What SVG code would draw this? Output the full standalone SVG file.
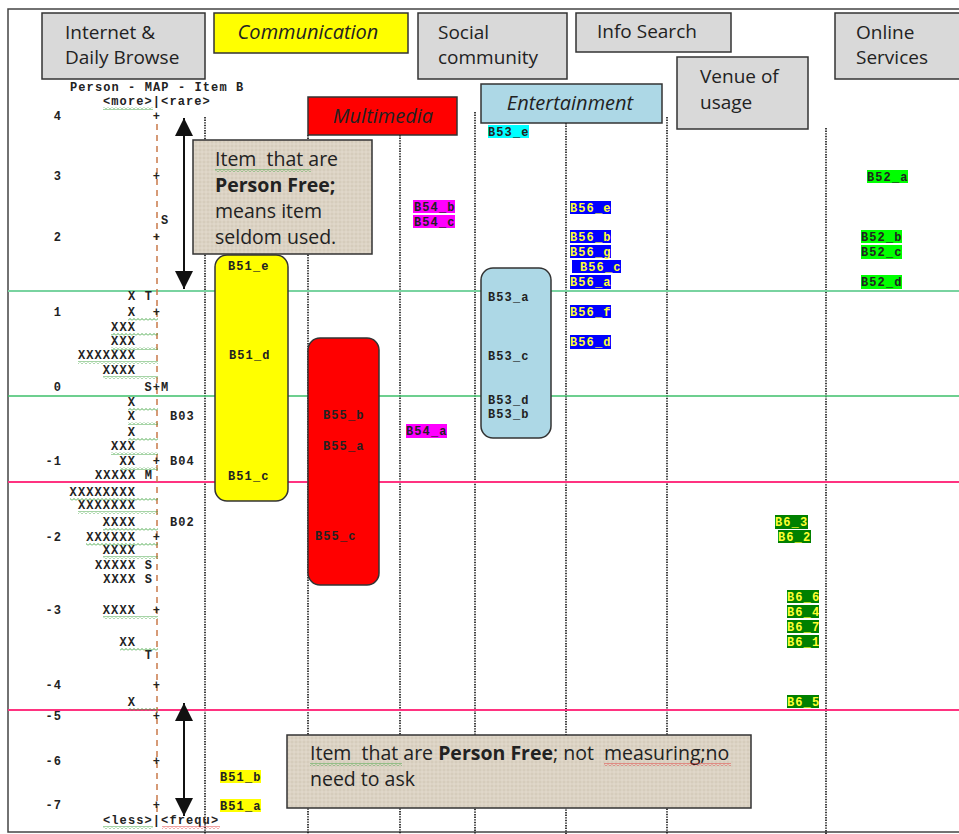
<svg xmlns="http://www.w3.org/2000/svg" width="959" height="834" viewBox="0 0 959 834">
<defs>
<style>
.hdr{fill:#d9d9d9;stroke:#333;stroke-width:1.5}
.ht{font-family:"Open Sans","Liberation Sans",sans-serif;font-size:19px;fill:#222}
.hi{font-style:italic;font-size:20px}
.mono{font-family:"Liberation Mono","Courier New",monospace;font-size:12px;letter-spacing:1.1px;font-weight:bold;fill:#222}
.lbl{font-family:"Liberation Mono","Courier New",monospace;font-size:12px;letter-spacing:1.1px;font-weight:bold;fill:#222}
.ylw{fill:#ffff33}
.dot{stroke:#111;stroke-width:1.6;stroke-dasharray:1.4 1.2;fill:none}
.note{font-family:"Open Sans","Liberation Sans",sans-serif;font-size:19.5px;fill:#222;white-space:pre}
</style>
<pattern id="wg" width="4" height="3" patternUnits="userSpaceOnUse"><path d="M0,2.5 L2,0.5 L4,2.5" fill="none" stroke="#3aa03a" stroke-width="0.9"/></pattern>
<pattern id="wr" width="4" height="3" patternUnits="userSpaceOnUse"><path d="M0,2.5 L2,0.5 L4,2.5" fill="none" stroke="#e03030" stroke-width="0.9"/></pattern>
<pattern id="tex" width="8" height="8" patternUnits="userSpaceOnUse">
<rect width="8" height="8" fill="#dcd3c4"/>
<path d="M0,2 H8 M0,6 H8" stroke="#cbc1b0" stroke-width="0.8"/>
<path d="M2,0 V8 M6,0 V8" stroke="#e6dfd2" stroke-width="0.7"/>
</pattern>
<marker id="ah" viewBox="0 0 10 10" refX="10" refY="5" markerWidth="20" markerHeight="18" markerUnits="userSpaceOnUse" orient="auto-start-reverse"><path d="M0,0 L10,5 L0,10 z" fill="#111"/></marker>
</defs>
<rect width="959" height="834" fill="#fff"/>
<rect x="8" y="9" width="960" height="823" fill="none" stroke="#444" stroke-width="1.5"/>

<!-- column dotted separators -->
<g id="columns">
<line class="dot" x1="205" y1="117" x2="205" y2="834"/>
<line class="dot" x1="308" y1="135" x2="308" y2="834"/>
<line class="dot" x1="400" y1="135" x2="400" y2="834"/>
<line class="dot" x1="475" y1="112" x2="475" y2="834"/>
<line class="dot" x1="566" y1="123" x2="566" y2="834"/>
<line class="dot" x1="667" y1="117" x2="667" y2="834"/>
<line class="dot" x1="826" y1="128" x2="826" y2="834"/>
</g>

<!-- header boxes -->
<g id="h-internet"><rect class="hdr" x="42" y="13" width="163" height="66"/><text class="ht" x="65" y="39">Internet &amp;</text><text class="ht" x="65" y="64">Daily Browse</text></g>
<g id="h-communication"><rect x="214" y="13" width="194" height="40" fill="#ffff00" stroke="#333" stroke-width="1.5"/><text class="ht hi" x="308" y="39" text-anchor="middle">Communication</text></g>
<g id="h-social"><rect class="hdr" x="418" y="13" width="149" height="66"/><text class="ht" x="438" y="39">Social</text><text class="ht" x="438" y="64">community</text></g>
<g id="h-info"><rect class="hdr" x="576" y="13" width="155" height="39"/><text class="ht" x="597" y="38">Info Search</text></g>
<g id="h-online"><rect class="hdr" x="835" y="13" width="130" height="66"/><text class="ht" x="856" y="39">Online</text><text class="ht" x="856" y="64">Services</text></g>
<g id="h-venue"><rect class="hdr" x="677" y="57" width="131" height="72"/><text class="ht" x="700" y="83">Venue of</text><text class="ht" x="700" y="109">usage</text></g>
<g id="h-entertainment"><rect x="481" y="84" width="181" height="39" fill="#add8e6" stroke="#333" stroke-width="1.5"/><text class="ht hi" x="570" y="110" text-anchor="middle">Entertainment</text></g>
<g id="h-multimedia"><rect x="308" y="97" width="149" height="38" fill="#ff0000" stroke="#333" stroke-width="1.5"/><text class="ht hi" x="383" y="123" text-anchor="middle">Multimedia</text></g>

<!-- horizontal reference lines -->
<g id="hlines">
<line x1="8" y1="291" x2="959" y2="291" stroke="#79d3a0" stroke-width="2"/>
<line x1="8" y1="396" x2="959" y2="396" stroke="#3cbf6a" stroke-width="1.3"/>
<line x1="8" y1="482" x2="959" y2="482" stroke="#ff3380" stroke-width="2.2"/>
<line x1="8" y1="710" x2="959" y2="710" stroke="#ff3380" stroke-width="2.2"/>
</g>

<!-- axis -->
<g id="axis">
<text class="mono" x="70" y="91">Person - MAP - Item B</text>
<text class="mono" x="103" y="105">&lt;more&gt;|&lt;rare&gt;</text>
<rect x="103" y="107" width="50" height="3" fill="url(#wg)"/>
<line x1="157" y1="124" x2="157" y2="812" stroke="#c97a4a" stroke-width="1.5" stroke-dasharray="6 5"/>
<g class="mono" text-anchor="end">
<text x="62" y="120">4</text><text x="62" y="180">3</text><text x="62" y="241">2</text><text x="62" y="316">1</text><text x="62" y="391">0</text><text x="62" y="465">-1</text><text x="62" y="541">-2</text><text x="62" y="614">-3</text><text x="62" y="689">-4</text><text x="62" y="720">-5</text><text x="62" y="765">-6</text><text x="62" y="809">-7</text>
</g>
<g class="mono" text-anchor="middle">
<text x="157" y="120">+</text><text x="157" y="180">+</text><text x="157" y="241">+</text><text x="157" y="316">+</text><text x="157" y="465">+</text><text x="157" y="541">+</text><text x="157" y="614">+</text><text x="157" y="689">+</text><text x="157" y="720">+</text><text x="157" y="765">+</text><text x="157" y="809">+</text>
</g>
<text class="mono" x="161" y="224">S</text>
<text class="mono" x="144.5" y="391">S+M</text>
<g class="mono" text-anchor="end">
<text x="153" y="300">X T</text>
<text x="136" y="316">X</text>
<text x="136" y="331">XXX</text>
<text x="136" y="345">XXX</text>
<text x="136" y="359">XXXXXXX</text>
<text x="136" y="374">XXXX</text>
<text x="136" y="406">X</text>
<text x="136" y="420">X</text>
<text x="136" y="436">X</text>
<text x="136" y="450">XXX</text>
<text x="136" y="465">XX</text>
<text x="153" y="479">XXXXX M</text>
<text x="136" y="496">XXXXXXXX</text>
<text x="136" y="509">XXXXXXX</text>
<text x="136" y="526">XXXX</text>
<text x="136" y="541">XXXXXX</text>
<text x="136" y="554">XXXX</text>
<text x="153" y="569">XXXXX S</text>
<text x="153" y="583">XXXX S</text>
<text x="136" y="614">XXXX</text>
<text x="136" y="646">XX</text>
<text x="153" y="659">T</text>
<text x="136" y="706">X</text>
</g>
<g fill="url(#wg)">
<rect x="128" y="318" width="30" height="3"/>
<rect x="111" y="333" width="47" height="3"/>
<rect x="111" y="347" width="47" height="3"/>
<rect x="78" y="361" width="80" height="3"/>
<rect x="103" y="376" width="55" height="3"/>
<rect x="128" y="408" width="30" height="3"/>
<rect x="128" y="422" width="30" height="3"/>
<rect x="128" y="438" width="30" height="3"/>
<rect x="111" y="452" width="47" height="3"/>
<rect x="120" y="467" width="38" height="3"/>
<rect x="70" y="498" width="88" height="3"/>
<rect x="78" y="511" width="80" height="3"/>
<rect x="103" y="528" width="55" height="3"/>
<rect x="86" y="543" width="72" height="3"/>
<rect x="103" y="556" width="55" height="3"/>
<rect x="103" y="616" width="55" height="3"/>
<rect x="120" y="648" width="38" height="3"/>
<rect x="128" y="708" width="30" height="3"/>
</g>
<text class="mono" x="170" y="420">B03</text>
<text class="mono" x="170" y="465">B04</text>
<text class="mono" x="170" y="526">B02</text>
<text class="mono" x="103" y="824">&lt;less&gt;|&lt;frequ&gt;</text>
<rect x="103" y="826" width="50" height="3" fill="url(#wg)"/>
<rect x="162" y="826" width="58" height="3" fill="url(#wr)"/>
</g>

<!-- arrows -->
<g id="connectors">
<line x1="184" y1="118" x2="184" y2="289" stroke="#111" stroke-width="2" marker-start="url(#ah)" marker-end="url(#ah)"/>
<line x1="184" y1="703" x2="184" y2="816" stroke="#111" stroke-width="2" marker-start="url(#ah)" marker-end="url(#ah)"/>
</g>

<!-- note boxes -->
<g id="note-top">
<rect x="193" y="140" width="179" height="114" fill="url(#tex)" stroke="#333" stroke-width="1.5"/>
<text class="note" x="215" y="166" xml:space="preserve">Item  that are</text>
<rect x="215" y="169" width="96" height="3" fill="url(#wg)"/>
<text class="note" x="215" y="192" font-weight="bold">Person Free;</text>
<text class="note" x="215" y="218">means item</text>
<text class="note" x="215" y="244">seldom used.</text>
</g>
<g id="note-bottom">
<rect x="287" y="735" width="464" height="73" fill="url(#tex)" stroke="#333" stroke-width="1.5"/>
<text class="note" x="310" y="760" xml:space="preserve">Item  that are <tspan font-weight="bold">Person Free</tspan>; not  measuring;no</text>
<rect x="310" y="763" width="92" height="3" fill="url(#wg)"/>
<rect x="604" y="763" width="127" height="3" fill="url(#wr)"/>
<text class="note" x="310" y="786">need to ask</text>
</g>

<!-- group pills -->
<g id="pill-B51">
<rect x="215" y="255" width="73" height="246" rx="12" fill="#ffff00" stroke="#333" stroke-width="1.5"/>
<text class="lbl" x="228" y="270">B51_e</text>
<text class="lbl" x="229" y="359">B51_d</text>
<text class="lbl" x="228" y="480">B51_c</text>
</g>
<g id="pill-B55">
<rect x="308" y="338" width="71" height="247" rx="12" fill="#ff0000" stroke="#333" stroke-width="1.5"/>
<text class="lbl" x="323" y="419">B55_b</text>
<text class="lbl" x="323" y="450">B55_a</text>
<text class="lbl" x="315" y="540">B55_c</text>
</g>
<g id="pill-B53">
<rect x="481" y="268" width="70" height="170" rx="12" fill="#add8e6" stroke="#333" stroke-width="1.5"/>
<text class="lbl" x="488" y="301">B53_a</text>
<text class="lbl" x="488" y="360">B53_c</text>
<text class="lbl" x="488" y="404">B53_d</text>
<text class="lbl" x="488" y="418">B53_b</text>
</g>

<!-- highlighted item labels -->
<g id="B53_e"><rect x="488" y="125" width="41" height="13" fill="#00ffff"/><text class="lbl" x="488" y="136">B53_e</text></g>
<g id="B54_b"><rect x="413" y="200" width="42" height="13" fill="#ff00ff"/><text class="lbl" x="414" y="211">B54_b</text></g>
<g id="B54_c"><rect x="413" y="215" width="42" height="13" fill="#ff00ff"/><text class="lbl" x="414" y="226">B54_c</text></g>
<g id="B54_a"><rect x="406" y="424" width="41" height="14" fill="#ff00ff"/><text class="lbl" x="406" y="435">B54_a</text></g>

<g id="B56_e"><rect x="570" y="201" width="41" height="13" fill="#0000ff"/><text class="lbl ylw" x="570" y="212">B56_e</text></g>
<g id="B56_b"><rect x="570" y="230" width="41" height="13" fill="#0000ff"/><text class="lbl ylw" x="570" y="241">B56_b</text></g>
<g id="B56_g"><rect x="570" y="245" width="41" height="13" fill="#0000ff"/><text class="lbl ylw" x="570" y="256">B56_g</text></g>
<g id="B56_c"><rect x="572" y="260" width="49" height="13" fill="#0000ff"/><text class="lbl ylw" x="580" y="271">B56_c</text></g>
<g id="B56_a"><rect x="570" y="275" width="41" height="14" fill="#0000ff"/><text class="lbl ylw" x="570" y="286">B56_a</text></g>
<g id="B56_f"><rect x="570" y="305" width="41" height="13" fill="#0000ff"/><text class="lbl ylw" x="570" y="316">B56_f</text></g>
<g id="B56_d"><rect x="570" y="335" width="41" height="14" fill="#0000ff"/><text class="lbl ylw" x="570" y="346">B56_d</text></g>

<g id="B52_a"><rect x="867" y="170" width="41" height="13" fill="#00ff00"/><text class="lbl" x="867" y="181">B52_a</text></g>
<g id="B52_b"><rect x="861" y="230" width="41" height="13" fill="#00ff00"/><text class="lbl" x="861" y="241">B52_b</text></g>
<g id="B52_c"><rect x="861" y="245" width="41" height="14" fill="#00ff00"/><text class="lbl" x="861" y="256">B52_c</text></g>
<g id="B52_d"><rect x="861" y="275" width="41" height="14" fill="#00ff00"/><text class="lbl" x="861" y="286">B52_d</text></g>

<g id="B6_3"><rect x="775" y="515" width="33" height="14" fill="#008000"/><text class="lbl ylw" x="775" y="526">B6_3</text></g>
<g id="B6_2"><rect x="778" y="530" width="33" height="13" fill="#008000"/><text class="lbl ylw" x="778" y="541">B6_2</text></g>
<g id="B6_6"><rect x="787" y="590" width="32" height="13" fill="#008000"/><text class="lbl ylw" x="787" y="601">B6_6</text></g>
<g id="B6_4"><rect x="787" y="605" width="32" height="13" fill="#008000"/><text class="lbl ylw" x="787" y="616">B6_4</text></g>
<g id="B6_7"><rect x="787" y="620" width="32" height="13" fill="#008000"/><text class="lbl ylw" x="787" y="631">B6_7</text></g>
<g id="B6_1"><rect x="787" y="635" width="32" height="13" fill="#008000"/><text class="lbl ylw" x="787" y="646">B6_1</text></g>
<g id="B6_5"><rect x="787" y="695" width="32" height="13" fill="#008000"/><text class="lbl ylw" x="787" y="706">B6_5</text></g>

<g id="B51_b"><rect x="220" y="770" width="41" height="13" fill="#ffff00"/><text class="lbl" x="220" y="781">B51_b</text></g>
<g id="B51_a"><rect x="220" y="799" width="41" height="13" fill="#ffff00"/><text class="lbl" x="220" y="810">B51_a</text></g>
</svg>
